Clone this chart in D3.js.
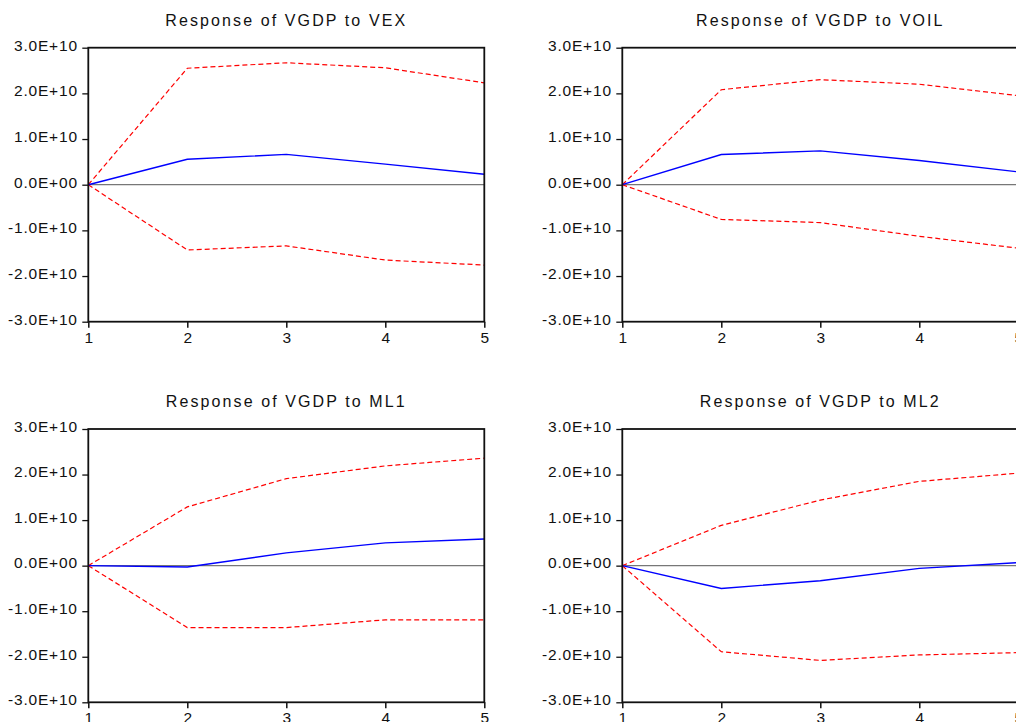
<!DOCTYPE html>
<html>
<head>
<meta charset="utf-8">
<script src="https://cdn.jsdelivr.net/npm/d3@7"></script>
<style>
  html, body { margin: 0; padding: 0; background: #fff; }
  svg { display: block; }
  .title { font-family: "Liberation Sans", Arial, sans-serif; font-size: 16px; letter-spacing: 2.1px; fill: #111; }
</style>
</head>
<body>
<svg id="chart"></svg>
<script>
// Dữ liệu
const periods = [1, 2, 3, 4, 5];
const shocks = ["VEX", "VOIL", "ML1", "ML2"];
const yTicks = [-3e10, -2e10, -1e10, 0, 1e10, 2e10, 3e10];
const yTickLabels = ["-3.0E+10", "-2.0E+10", "-1.0E+10", "0.0E+00", "1.0E+10", "2.0E+10", "3.0E+10"];

const respVEX = [0, 0.556e10, 0.665e10, 0.45e10, 0.23e10];
const upVEX   = [0, 2.55e10, 2.67e10, 2.56e10, 2.23e10];
const loVEX   = [0, -1.43e10, -1.34e10, -1.65e10, -1.76e10];

const respVOIL = [0, 0.66e10, 0.74e10, 0.53e10, 0.28e10];
const upVOIL   = [0, 2.08e10, 2.30e10, 2.20e10, 1.95e10];
const loVOIL   = [0, -0.76e10, -0.83e10, -1.13e10, -1.39e10];

const respML1 = [0, -0.03e10, 0.28e10, 0.50e10, 0.585e10];
const upML1   = [0, 1.29e10, 1.91e10, 2.19e10, 2.36e10];
const loML1   = [0, -1.36e10, -1.36e10, -1.19e10, -1.19e10];

const respML2 = [0, -0.50e10, -0.33e10, -0.06e10, 0.066e10];
const upML2   = [0, 0.885e10, 1.44e10, 1.85e10, 2.03e10];
const loML2   = [0, -1.89e10, -2.08e10, -1.96e10, -1.91e10];

const panelData = [
    { shock: shocks[0], resp: respVEX,  up: upVEX,  lo: loVEX },
    { shock: shocks[1], resp: respVOIL, up: upVOIL, lo: loVOIL },
    { shock: shocks[2], resp: respML1,  up: upML1,  lo: loML1 },
    { shock: shocks[3], resp: respML2,  up: upML2,  lo: loML2 }
];

// Kích thước
const width = 1016;
const height = 722;
const plotW = 396;
const colX = [88.3, 622.3];
const rowY = [47.7, 429];
const plotH = [274, 273.3];

const svg = d3.select("#chart")
    .attr("width", width)
    .attr("height", height);

svg.append("rect").attr("width", width).attr("height", height).attr("fill", "#fff");

function styleTicks(sel) {
    sel.selectAll("text")
        .style("font-family", "'Liberation Sans', Arial, sans-serif")
        .style("font-size", "15.5px")
        .style("letter-spacing", "0.8px")
        .style("fill", "#111");
}

panelData.forEach((p, i) => {
    const col = i % 2, row = Math.floor(i / 2);
    const h = plotH[row];
    const g = svg.append("g")
        .attr("transform", `translate(${colX[col]},${rowY[row]})`);

    const x = d3.scaleLinear().domain([1, 5]).range([0, plotW]);
    const y = d3.scaleLinear().domain([-3e10, 3e10]).range([h, 0]);

    // Trục Y
    const yAxis = g.append("g")
        .call(d3.axisLeft(y)
            .tickValues(yTicks)
            .tickFormat((d, k) => yTickLabels[k])
            .tickSize(6)
            .tickPadding(4.5));
    yAxis.select(".domain").remove();
    yAxis.selectAll("line").attr("stroke", "#111").attr("stroke-width", 1.3);
    styleTicks(yAxis);
    yAxis.selectAll("text").attr("dy", "0.15em");

    // Trục X
    const xAxis = g.append("g")
        .attr("transform", `translate(0,${h})`)
        .call(d3.axisBottom(x)
            .tickValues(periods)
            .tickFormat(d3.format("d"))
            .tickSize(6)
            .tickPadding(4));
    xAxis.select(".domain").remove();
    xAxis.selectAll("line").attr("stroke", "#111").attr("stroke-width", 1.5);
    styleTicks(xAxis);
    xAxis.selectAll("text").style("letter-spacing", "0px");

    // Đường 0
    g.append("line")
        .attr("x1", 0).attr("x2", plotW)
        .attr("y1", y(0)).attr("y2", y(0))
        .attr("stroke", "#777")
        .attr("stroke-width", 1.3);

    const line = d3.line()
        .x((d, k) => x(periods[k]))
        .y(d => y(d));

    // Khoảng tin cậy (nét đứt đỏ)
    [p.up, p.lo].forEach(band => {
        g.append("path")
            .datum(band)
            .attr("d", line)
            .attr("fill", "none")
            .attr("stroke", "#ff0000")
            .attr("stroke-width", 1.2)
            .attr("stroke-dasharray", "5,3");
    });

    // Phản ứng (xanh)
    g.append("path")
        .datum(p.resp)
        .attr("d", line)
        .attr("fill", "none")
        .attr("stroke", "#0000ff")
        .attr("stroke-width", 1.4);

    // Khung
    g.append("rect")
        .attr("width", plotW)
        .attr("height", h)
        .attr("fill", "none")
        .attr("stroke", "#111")
        .attr("stroke-width", 1.8);

    // Tiêu đề
    g.append("text")
        .attr("class", "title")
        .attr("x", plotW / 2)
        .attr("y", -22)
        .attr("text-anchor", "middle")
        .text(`Response of VGDP to ${p.shock}`);
});
</script>
</body>
</html>
